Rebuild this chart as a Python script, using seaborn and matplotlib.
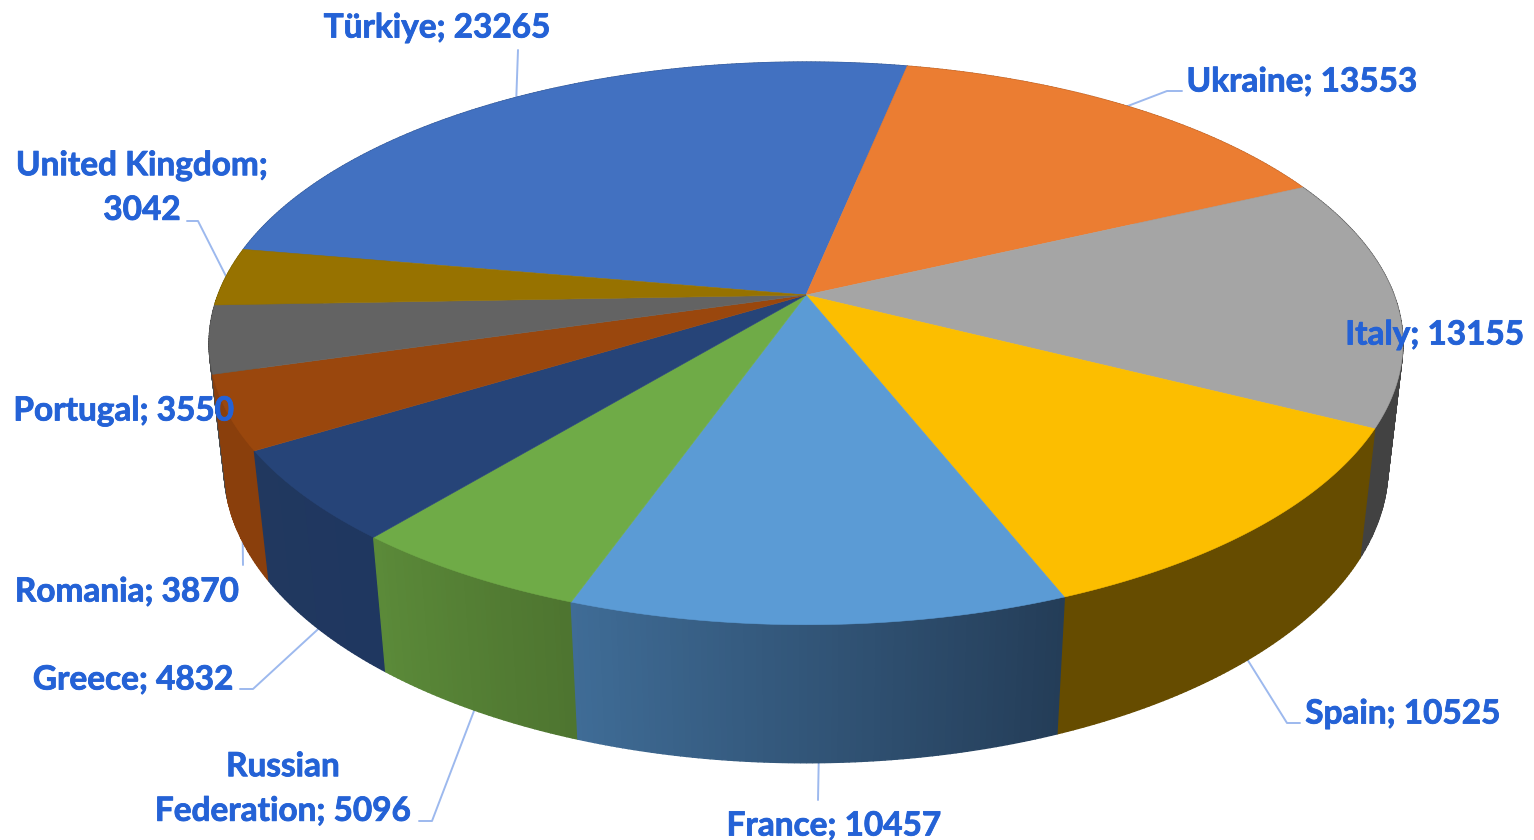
#%% import required libraries
import numpy as np
import matplotlib
matplotlib.use("Agg")
import matplotlib.pyplot as plt
import matplotlib.patheffects as pe
import seaborn as sns

##############################################################################
# data
##############################################################################
countries = [
    "Türkiye", "Ukraine", "Italy", "Spain", "France",
    "Russian Federation", "Greece", "Romania", "Portugal", "United Kingdom",
]
visitors = [23265, 13553, 13155, 10525, 10457, 5096, 4832, 3870, 3550, 3042]

top_colors = [
    "#4271C1", "#EB7D32", "#A5A5A5", "#FCBE00", "#5B9BD5",
    "#6FAB47", "#264478", "#9A470D", "#636363", "#977200",
]
# side of each slice, colour at the start and at the end of its arc
wall_start = [
    "#34568F", "#B25D25", "#424242", "#664C00", "#243D58",
    "#4E7530", "#1F3760", "#8A3F0C", "#4A4A4A", "#736000",
]
wall_end = [
    "#34568F", "#B25D25", "#424242", "#664C00", "#3F6C96",
    "#5B8A39", "#21385F", "#8A3F0C", "#4A4A4A", "#736000",
]

# label text, centre of the text, bend points of the leader (label side first)
label_text = {
    "Türkiye": "Türkiye; 23265",
    "Ukraine": "Ukraine; 13553",
    "Italy": "Italy; 13155",
    "Spain": "Spain; 10525",
    "France": "France; 10457",
    "Russian Federation": "Russian\nFederation; 5096",
    "Greece": "Greece; 4832",
    "Romania": "Romania; 3870",
    "Portugal": "Portugal; 3550",
    "United Kingdom": "United Kingdom;\n3042",
}
label_pos = {
    "Türkiye": (437, 28),
    "Ukraine": (1302, 82),
    "Italy": (1435, 335),
    "Spain": (1403, 714),
    "France": (834, 826),
    "Russian Federation": (283, 789),
    "Greece": (133, 680),
    "Romania": (127, 592),
    "Portugal": (124, 411),
    "United Kingdom": (142, 188),
}
leaders = {
    "Türkiye": [(518, 50)],
    "Ukraine": [(1182, 91), (1167, 91)],
    "Spain": [(1300, 723), (1287, 723)],
    "France": [(818, 800)],
    "Russian Federation": [(419, 821), (432, 821)],
    "Greece": [(240, 689), (253, 689)],
    "Romania": [(243, 565)],
    "United Kingdom": [(187, 221), (198, 221)],
}

##############################################################################
# settings
##############################################################################
sns.set_theme(style="white")
plt.rcParams["font.family"] = ["Lato", "DejaVu Sans"]

center_x, center_y = 806, 295
scale_x, scale_y, tilt = 588, 273, 0.172
depth, depth_shrink = 126, 0.025
ukraine_start = 11.6  # degrees clockwise from the back of the pie
text_color = "#2462D6"
leader_color = "#9DB9EE"


def project(theta, radius=1.0, low=False):
    """theta in degrees clockwise from the back, low=True for the bottom face"""
    t = np.radians(theta)
    u = radius * np.sin(t)
    v = radius * np.cos(t)
    w = 1 + tilt * v + (depth_shrink if low else 0)
    x = center_x + scale_x * u / w
    y = center_y - (scale_y * v - (depth if low else 0)) / w
    return x, y


##############################################################################
# slices
##############################################################################
values = np.array(visitors, dtype=float)
sweep = 360 * values / values.sum()
starts = ukraine_start - sweep[0] + np.concatenate([[0], np.cumsum(sweep)[:-1]])
ends = starts + sweep
mids = (starts + ends) / 2

fig = plt.figure(figsize=(15.34, 8.4), dpi=100)
ax = fig.add_axes([0, 0, 1, 1])
ax.set_xlim(0, 1534)
ax.set_ylim(840, 0)
ax.axis("off")

# walls, back to front
quads = []
for i in range(len(values)):
    n = max(int(sweep[i] / 0.5), 2)
    thetas = np.linspace(starts[i], ends[i], n + 1)
    shades = sns.blend_palette([wall_start[i], wall_end[i]], n)
    for k in range(n):
        t0, t1 = thetas[k], thetas[k + 1]
        quads.append((np.cos(np.radians((t0 + t1) / 2)), t0, t1, shades[k]))

for _, t0, t1, shade in sorted(quads, key=lambda q: -q[0]):
    xa, ya = project(t0)
    xb, yb = project(t1)
    xc, yc = project(t1, low=True)
    xd, yd = project(t0, low=True)
    ax.fill([xa, xb, xc, xd], [ya, yb, yc, yd], color=shade, lw=1.0, zorder=1)

# top faces
for i in range(len(values)):
    thetas = np.linspace(starts[i], ends[i], 80)
    xs, ys = project(thetas)
    ax.fill(
        np.concatenate([[center_x], xs]),
        np.concatenate([[center_y], ys]),
        color=top_colors[i],
        lw=0.4,
        zorder=2,
    )

##############################################################################
# leaders and labels
##############################################################################
for i, name in enumerate(countries):
    if name in leaders:
        back = np.cos(np.radians(mids[i])) > 0
        ax_x, ax_y = project(mids[i], low=not back)
        pts = leaders[name] + [(ax_x, ax_y)]
        ax.plot(
            [p[0] for p in pts],
            [p[1] for p in pts],
            color=leader_color,
            lw=1.4,
            zorder=0.5,
        )
    ax.text(
        *label_pos[name],
        label_text[name],
        color=text_color,
        fontsize=24,
        fontweight="bold",
        ha="center",
        va="center",
        linespacing=1.65,
        zorder=4,
        path_effects=[pe.withStroke(linewidth=0.6, foreground=text_color)],
    )

fig.savefig("out.png", dpi=100, facecolor="white")
